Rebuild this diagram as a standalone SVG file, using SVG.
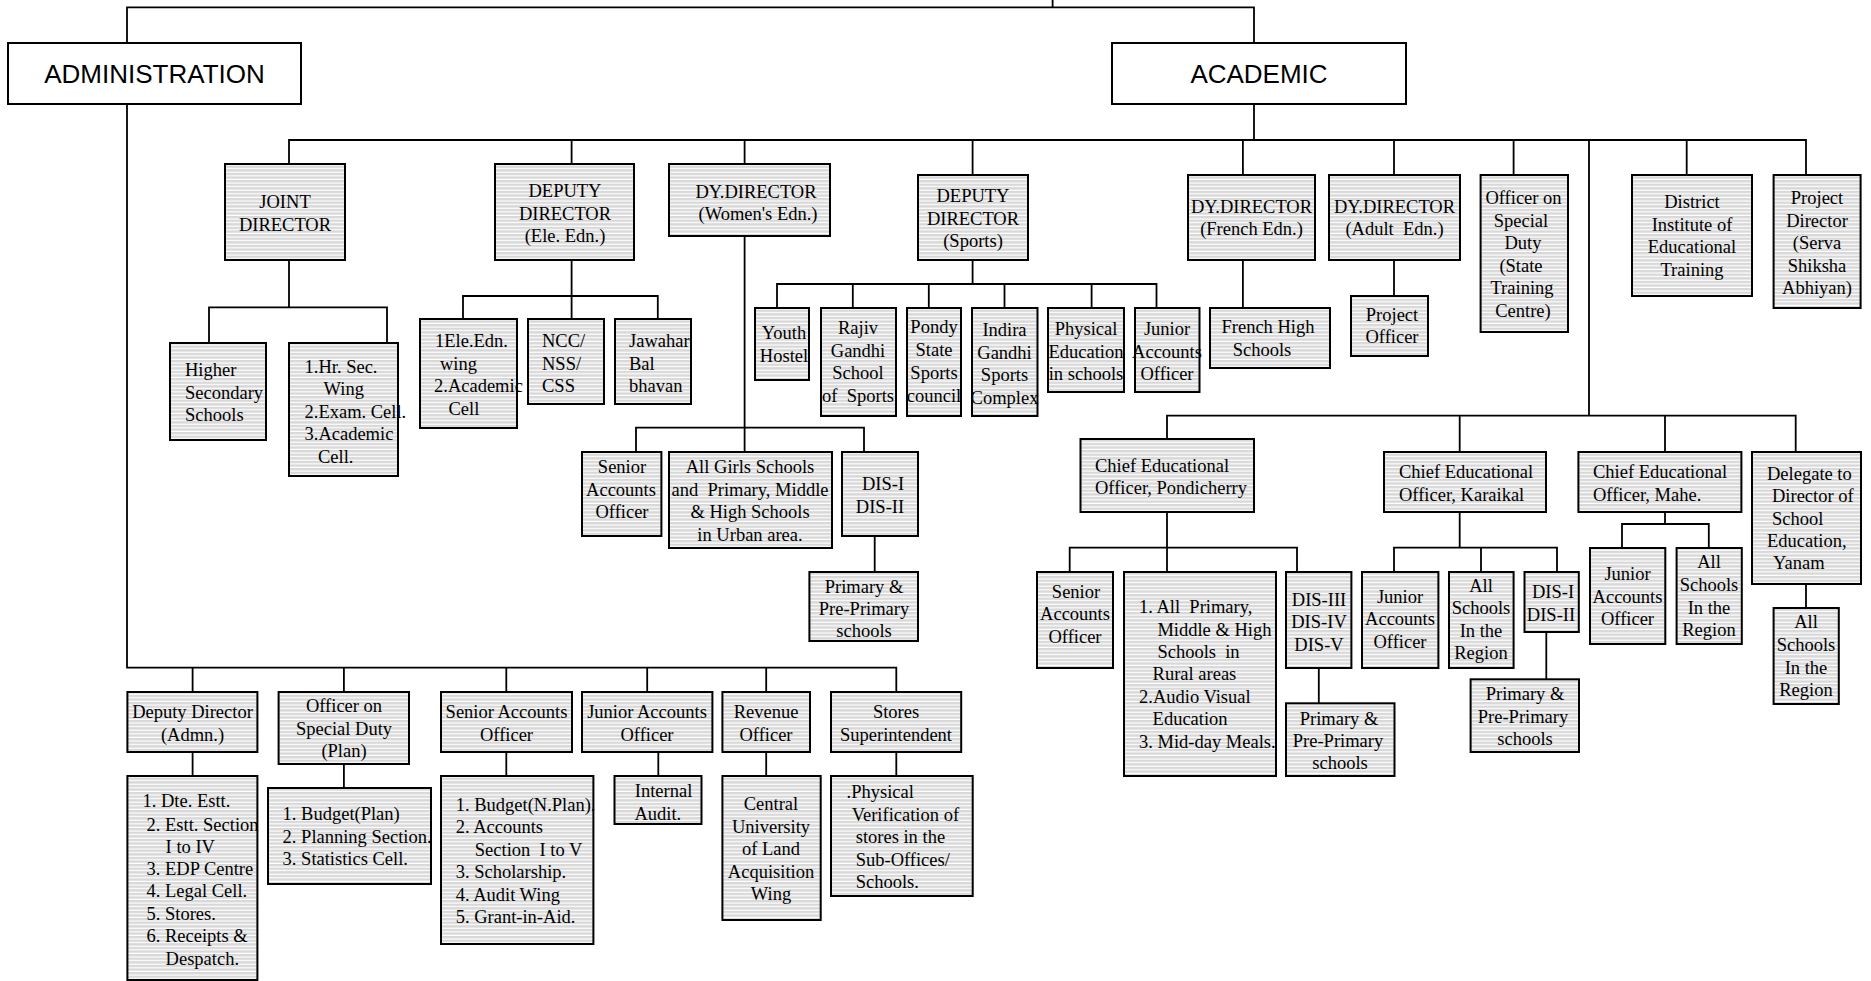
<svg xmlns="http://www.w3.org/2000/svg" width="1871" height="981" viewBox="0 0 1871 981" xml:space="preserve">
<defs>
<pattern id="stripes" patternUnits="userSpaceOnUse" width="8" height="3.6">
<rect x="0" y="0" width="8" height="3.6" fill="#d8d8d8"/>
<rect x="0" y="2.4" width="8" height="1.2" fill="#ffffff"/>
</pattern>
<style>
.box{fill:url(#stripes);stroke:#000;stroke-width:2}
.plain{fill:#fff;stroke:#000;stroke-width:2}
.t{font-family:"Liberation Serif","Times New Roman",serif;font-size:18.5px;fill:#000;white-space:pre}
.c{text-anchor:middle}
.big{font-family:"Liberation Sans",Arial,sans-serif;font-size:26px;fill:#000;text-anchor:middle}
.conn path{fill:none;stroke:#000;stroke-width:1.8}
</style>
</defs>
<rect width="1871" height="981" fill="#fff"/>

<g class="conn" id="connectors">
<path d="M127,43 V7.3 H1254 V43 M1052.6,0 V7.3"/>
<path d="M127,104 V667.7 H896.3 V692 M192.6,667.7 V692 M343.9,667.7 V692 M506.3,667.7 V692 M647.2,667.7 V692 M766.2,667.7 V692"/>
<path d="M192.6,752 V776 M343.9,764 V788 M506.3,752 V776 M658.3,752 V776 M766.2,752 V776 M896.3,752 V776"/>
<path d="M1254,104 V140 M289,164 V140 H1806 V175 M571.6,140 V164 M744.6,140 V164 M972.6,140 V175 M1242.9,140 V175 M1394,140 V175 M1513.6,140 V175 M1686.7,140 V175 M1589,140 V415.7"/>
<path d="M289,260 V307.3 M209,343 V307.3 H387 V343"/>
<path d="M571.6,260 V319 M463,319 V296 H657.8 V319"/>
<path d="M744.6,236 V452 M636,452 V427.7 H864 V452 M874.7,536 V572"/>
<path d="M972.6,260 V284 M777,308 V284 H1156.5 V308 M852.8,284 V308 M928.8,284 V308 M1004.5,284 V308 M1091.6,284 V308"/>
<path d="M1242.9,260 V308 M1394,260 V296"/>
<path d="M1167,439 V415.7 H1795.7 V452 M1459.7,415.7 V452 M1665,415.7 V452"/>
<path d="M1167,512 V572 M1069.7,572 V547.7 H1297 V572 M1318.8,668 V703.3"/>
<path d="M1459.7,512 V547.7 M1394,572 V547.7 H1557 V572 M1481,547.7 V572 M1546.3,632 V679.3"/>
<path d="M1665,512 V524 M1622,548 V524 H1708.8 V548 M1806,584 V608"/>
</g>

<g id="admin"><rect class="plain" x="8" y="43" width="293" height="61"/><text class="big" x="154.5" y="83">ADMINISTRATION</text></g>
<g id="academic"><rect class="plain" x="1112" y="43" width="294" height="61"/><text class="big" x="1259" y="83">ACADEMIC</text></g>

<g id="joint-director"><rect class="box" x="225" y="164" width="120" height="96"/><text class="t c"><tspan x="285" y="208">JOINT</tspan><tspan x="285" y="231">DIRECTOR</tspan></text></g>
<g id="dd-ele"><rect class="box" x="495" y="164" width="139" height="96"/><text class="t c"><tspan x="565" y="197">DEPUTY</tspan><tspan x="565" y="219.5">DIRECTOR</tspan><tspan x="565" y="242">(Ele. Edn.)</tspan></text></g>
<g id="dd-women"><rect class="box" x="669" y="164" width="161" height="72"/><text class="t c"><tspan x="756" y="198">DY.DIRECTOR</tspan><tspan x="758" y="220">(Women's Edn.)</tspan></text></g>
<g id="dd-sports"><rect class="box" x="918" y="175" width="110" height="85"/><text class="t c"><tspan x="973" y="202">DEPUTY</tspan><tspan x="973" y="224.5">DIRECTOR</tspan><tspan x="973" y="247">(Sports)</tspan></text></g>
<g id="dd-french"><rect class="box" x="1188" y="175" width="127" height="85"/><text class="t c"><tspan x="1251.5" y="213">DY.DIRECTOR</tspan><tspan x="1251.5" y="235">(French Edn.)</tspan></text></g>
<g id="dd-adult"><rect class="box" x="1329" y="175" width="131" height="85"/><text class="t c"><tspan x="1394.5" y="213">DY.DIRECTOR</tspan><tspan x="1394.5" y="235">(Adult  Edn.)</tspan></text></g>
<g id="osd-state"><rect class="box" x="1480.6" y="175" width="87.4" height="157"/><text class="t c"><tspan x="1523.5" y="204">Officer on</tspan><tspan x="1521" y="226.5">Special</tspan><tspan x="1523" y="249">Duty</tspan><tspan x="1521" y="271.5">(State</tspan><tspan x="1522" y="294">Training</tspan><tspan x="1523" y="316.5">Centre)</tspan></text></g>
<g id="diet"><rect class="box" x="1632" y="175" width="120" height="121"/><text class="t c"><tspan x="1692" y="208">District</tspan><tspan x="1692" y="230.5">Institute of</tspan><tspan x="1692" y="253">Educational</tspan><tspan x="1692" y="275.5">Training</tspan></text></g>
<g id="pd-ssa"><rect class="box" x="1773.6" y="175" width="87" height="133"/><text class="t c"><tspan x="1817" y="204">Project</tspan><tspan x="1817" y="226.5">Director</tspan><tspan x="1817" y="249">(Serva</tspan><tspan x="1817" y="271.5">Shiksha</tspan><tspan x="1817" y="294">Abhiyan)</tspan></text></g>

<g id="hss"><rect class="box" x="170" y="343" width="96" height="97"/><text class="t"><tspan x="185" y="376">Higher</tspan><tspan x="185" y="398.5">Secondary</tspan><tspan x="185" y="421">Schools</tspan></text></g>
<g id="hrsec"><rect class="box" x="289" y="343" width="109" height="133"/><text class="t"><tspan x="304.5" y="372.7">1.Hr. Sec.</tspan><tspan x="323.6" y="395">Wing</tspan><tspan x="304.5" y="417.5">2.Exam. Cell.</tspan><tspan x="304.5" y="440">3.Academic</tspan><tspan x="318" y="462.5">Cell.</tspan></text></g>
<g id="ele-wing"><rect class="box" x="420" y="319" width="97" height="109"/><text class="t"><tspan x="435" y="347">1Ele.Edn.</tspan><tspan x="440" y="369.5">wing</tspan><tspan x="434" y="392">2.Academic</tspan><tspan x="448.5" y="414.5">Cell</tspan></text></g>
<g id="ncc"><rect class="box" x="528" y="319" width="76" height="85"/><text class="t"><tspan x="542" y="347">NCC/</tspan><tspan x="542" y="369.5">NSS/</tspan><tspan x="542" y="392">CSS</tspan></text></g>
<g id="jbb"><rect class="box" x="615" y="319" width="76" height="85"/><text class="t"><tspan x="629" y="347">Jawahar</tspan><tspan x="629" y="369.5">Bal</tspan><tspan x="629" y="392">bhavan</tspan></text></g>

<g id="youth"><rect class="box" x="755" y="308" width="54" height="72"/><text class="t c"><tspan x="784" y="339">Youth</tspan><tspan x="784" y="361.5">Hostel</tspan></text></g>
<g id="rajiv"><rect class="box" x="821" y="308" width="75" height="108"/><text class="t c"><tspan x="858" y="334">Rajiv</tspan><tspan x="858" y="356.5">Gandhi</tspan><tspan x="858" y="379">School</tspan><tspan x="858" y="401.5">of  Sports</tspan></text></g>
<g id="pondy"><rect class="box" x="907" y="308" width="54" height="108"/><text class="t c"><tspan x="934" y="333">Pondy</tspan><tspan x="934" y="356">State</tspan><tspan x="934" y="379">Sports</tspan><tspan x="934" y="401.5">council</tspan></text></g>
<g id="indira"><rect class="box" x="972" y="308" width="65.5" height="108"/><text class="t c"><tspan x="1004.5" y="336">Indira</tspan><tspan x="1004.5" y="358.5">Gandhi</tspan><tspan x="1004.5" y="381">Sports</tspan><tspan x="1004.5" y="403.5">Complex</tspan></text></g>
<g id="phys"><rect class="box" x="1048" y="308" width="76" height="84"/><text class="t c"><tspan x="1086" y="335">Physical</tspan><tspan x="1086" y="357.5">Education</tspan><tspan x="1086" y="380">in schools</tspan></text></g>
<g id="jao-sports"><rect class="box" x="1135" y="308" width="64.5" height="84"/><text class="t c"><tspan x="1167" y="335">Junior</tspan><tspan x="1167" y="357.5">Accounts</tspan><tspan x="1167" y="380">Officer</tspan></text></g>
<g id="french-hs"><rect class="box" x="1210" y="308" width="120" height="60"/><text class="t c"><tspan x="1268" y="333">French High</tspan><tspan x="1262" y="355.5">Schools</tspan></text></g>
<g id="proj-officer"><rect class="box" x="1351" y="296" width="77" height="60"/><text class="t c"><tspan x="1392" y="320.5">Project</tspan><tspan x="1392" y="343">Officer</tspan></text></g>

<g id="sao-women"><rect class="box" x="582" y="452" width="79.4" height="84"/><text class="t c"><tspan x="622" y="473">Senior</tspan><tspan x="621" y="495.5">Accounts</tspan><tspan x="622" y="518">Officer</tspan></text></g>
<g id="girls"><rect class="box" x="669" y="452" width="163" height="96"/><text class="t c"><tspan x="750" y="472.7">All Girls Schools</tspan><tspan x="750" y="495.5">and  Primary, Middle</tspan><tspan x="750" y="518">&amp; High Schools</tspan><tspan x="750" y="540.5">in Urban area.</tspan></text></g>
<g id="dis12-women"><rect class="box" x="842" y="452" width="76" height="84"/><text class="t c"><tspan x="883" y="490">DIS-I</tspan><tspan x="880" y="512.5">DIS-II</tspan></text></g>
<g id="pp-women"><rect class="box" x="809.4" y="572" width="108.6" height="69"/><text class="t c"><tspan x="864" y="593">Primary &amp;</tspan><tspan x="864" y="615">Pre-Primary</tspan><tspan x="864" y="637">schools</tspan></text></g>

<g id="ceo-pondicherry"><rect class="box" x="1080.5" y="439" width="173.5" height="73"/><text class="t"><tspan x="1095" y="471.7">Chief Educational</tspan><tspan x="1095" y="494">Officer, Pondicherry</tspan></text></g>
<g id="ceo-karaikal"><rect class="box" x="1384" y="452" width="162" height="60"/><text class="t"><tspan x="1399" y="478.3">Chief Educational</tspan><tspan x="1399" y="500.5">Officer, Karaikal</tspan></text></g>
<g id="ceo-mahe"><rect class="box" x="1578.4" y="452" width="163" height="60"/><text class="t"><tspan x="1593" y="478.3">Chief Educational</tspan><tspan x="1593" y="500.5">Officer, Mahe.</tspan></text></g>
<g id="delegate-yanam"><rect class="box" x="1752" y="452" width="109" height="132"/><text class="t"><tspan x="1767" y="480">Delegate to</tspan><tspan x="1772" y="502">Director of</tspan><tspan x="1772" y="524.5">School</tspan><tspan x="1767" y="547">Education,</tspan><tspan x="1773" y="569">Yanam</tspan></text></g>

<g id="sao-pondy"><rect class="box" x="1037" y="572" width="76" height="96"/><text class="t c"><tspan x="1076" y="598">Senior</tspan><tspan x="1075" y="620">Accounts</tspan><tspan x="1075" y="642.5">Officer</tspan></text></g>
<g id="all-primary"><rect class="box" x="1124" y="572" width="152" height="204"/><text class="t"><tspan x="1139" y="613.3">1. All  Primary,</tspan><tspan x="1157.4" y="636">Middle &amp; High</tspan><tspan x="1157.4" y="657.5">Schools  in</tspan><tspan x="1152.6" y="679.5">Rural areas</tspan><tspan x="1139" y="702.7">2.Audio Visual</tspan><tspan x="1152.6" y="724.5">Education</tspan><tspan x="1139" y="747.7">3. Mid-day Meals.</tspan></text></g>
<g id="dis345"><rect class="box" x="1286" y="572" width="65.4" height="96"/><text class="t c"><tspan x="1319" y="605.7">DIS-III</tspan><tspan x="1319" y="628.3">DIS-IV</tspan><tspan x="1319" y="650.5">DIS-V</tspan></text></g>
<g id="pp-pondy"><rect class="box" x="1286" y="703.3" width="108.5" height="72.7"/><text class="t c"><tspan x="1339" y="725">Primary &amp;</tspan><tspan x="1338" y="747">Pre-Primary</tspan><tspan x="1340" y="768.5">schools</tspan></text></g>

<g id="jao-karaikal"><rect class="box" x="1362" y="572" width="76.4" height="96"/><text class="t c"><tspan x="1400" y="602.7">Junior</tspan><tspan x="1400" y="625">Accounts</tspan><tspan x="1400" y="647.5">Officer</tspan></text></g>
<g id="all-karaikal"><rect class="box" x="1449" y="572" width="64.6" height="96"/><text class="t c"><tspan x="1481" y="591.7">All</tspan><tspan x="1481" y="614">Schools</tspan><tspan x="1481" y="636.5">In the</tspan><tspan x="1481" y="659">Region</tspan></text></g>
<g id="dis12-karaikal"><rect class="box" x="1524.5" y="572" width="54.3" height="60"/><text class="t c"><tspan x="1553" y="598.3">DIS-I</tspan><tspan x="1551" y="620.7">DIS-II</tspan></text></g>
<g id="pp-karaikal"><rect class="box" x="1470.6" y="679.3" width="108.4" height="72.7"/><text class="t c"><tspan x="1525" y="700">Primary &amp;</tspan><tspan x="1523" y="722.5">Pre-Primary</tspan><tspan x="1525" y="744.5">schools</tspan></text></g>

<g id="jao-mahe"><rect class="box" x="1590" y="548" width="75.3" height="96"/><text class="t c"><tspan x="1627.5" y="580">Junior</tspan><tspan x="1627.5" y="602.5">Accounts</tspan><tspan x="1627.5" y="625">Officer</tspan></text></g>
<g id="all-mahe"><rect class="box" x="1676.6" y="548" width="65.2" height="96"/><text class="t c"><tspan x="1709" y="568.3">All</tspan><tspan x="1709" y="591">Schools</tspan><tspan x="1709" y="613.5">In the</tspan><tspan x="1709" y="636">Region</tspan></text></g>
<g id="all-yanam"><rect class="box" x="1773.6" y="608" width="65.2" height="96"/><text class="t c"><tspan x="1806" y="628">All</tspan><tspan x="1806" y="651">Schools</tspan><tspan x="1806" y="673.5">In the</tspan><tspan x="1806" y="696">Region</tspan></text></g>

<g id="dd-admn"><rect class="box" x="127.4" y="692" width="130" height="60"/><text class="t c"><tspan x="192.5" y="718.3">Deputy Director</tspan><tspan x="192.5" y="740.5">(Admn.)</tspan></text></g>
<g id="dd-admn-list"><rect class="box" x="127.4" y="776" width="130" height="204"/><text class="t"><tspan x="142.5" y="807.3">1. Dte. Estt.</tspan><tspan x="146.5" y="830.7">2. Estt. Section</tspan><tspan x="165.6" y="852.5">I to IV</tspan><tspan x="146.5" y="875">3. EDP Centre</tspan><tspan x="146.5" y="897">4. Legal Cell.</tspan><tspan x="146.5" y="920">5. Stores.</tspan><tspan x="146.5" y="942">6. Receipts &amp;</tspan><tspan x="165.6" y="965">Despatch.</tspan></text></g>
<g id="osd-plan"><rect class="box" x="278.6" y="692" width="130.4" height="72"/><text class="t c"><tspan x="344" y="711.7">Officer on</tspan><tspan x="344" y="734.5">Special Duty</tspan><tspan x="344" y="757">(Plan)</tspan></text></g>
<g id="plan-list"><rect class="box" x="268" y="788" width="163" height="96"/><text class="t"><tspan x="282.6" y="820">1. Budget(Plan)</tspan><tspan x="282.6" y="842.5">2. Planning Section.</tspan><tspan x="282.6" y="865">3. Statistics Cell.</tspan></text></g>
<g id="sao-admn"><rect class="box" x="441" y="692" width="131" height="60"/><text class="t c"><tspan x="506.5" y="718.3">Senior Accounts</tspan><tspan x="506.5" y="740.5">Officer</tspan></text></g>
<g id="sao-list"><rect class="box" x="441" y="776" width="152.4" height="168"/><text class="t"><tspan x="455.7" y="810.7">1. Budget(N.Plan).</tspan><tspan x="455.7" y="833">2. Accounts</tspan><tspan x="474.8" y="855.5">Section  I to V</tspan><tspan x="455.7" y="878">3. Scholarship.</tspan><tspan x="455.7" y="900.5">4. Audit Wing</tspan><tspan x="455.7" y="922.5">5. Grant-in-Aid.</tspan></text></g>
<g id="jao-admn"><rect class="box" x="582" y="692" width="130.4" height="60"/><text class="t c"><tspan x="647" y="718.3">Junior Accounts</tspan><tspan x="647" y="740.5">Officer</tspan></text></g>
<g id="internal-audit"><rect class="box" x="614.5" y="776" width="87" height="48"/><text class="t"><tspan x="634.8" y="797">Internal</tspan><tspan x="634.4" y="819.5">Audit.</tspan></text></g>
<g id="revenue"><rect class="box" x="722.4" y="692" width="87.6" height="60"/><text class="t c"><tspan x="766" y="718.3">Revenue</tspan><tspan x="766" y="740.5">Officer</tspan></text></g>
<g id="cula"><rect class="box" x="722.4" y="776" width="98.3" height="144"/><text class="t c"><tspan x="771" y="810">Central</tspan><tspan x="771" y="832.5">University</tspan><tspan x="771" y="855">of Land</tspan><tspan x="771" y="877.5">Acquisition</tspan><tspan x="771" y="900">Wing</tspan></text></g>
<g id="stores"><rect class="box" x="831" y="692" width="130.2" height="60"/><text class="t c"><tspan x="896" y="718.3">Stores</tspan><tspan x="896" y="740.5">Superintendent</tspan></text></g>
<g id="stores-list"><rect class="box" x="831" y="776" width="141.7" height="120"/><text class="t"><tspan x="846.6" y="797.7">.Physical</tspan><tspan x="851.7" y="821">Verification of</tspan><tspan x="855.7" y="843">stores in the</tspan><tspan x="855.7" y="865.7">Sub-Offices/</tspan><tspan x="855.7" y="888">Schools.</tspan></text></g>
</svg>
